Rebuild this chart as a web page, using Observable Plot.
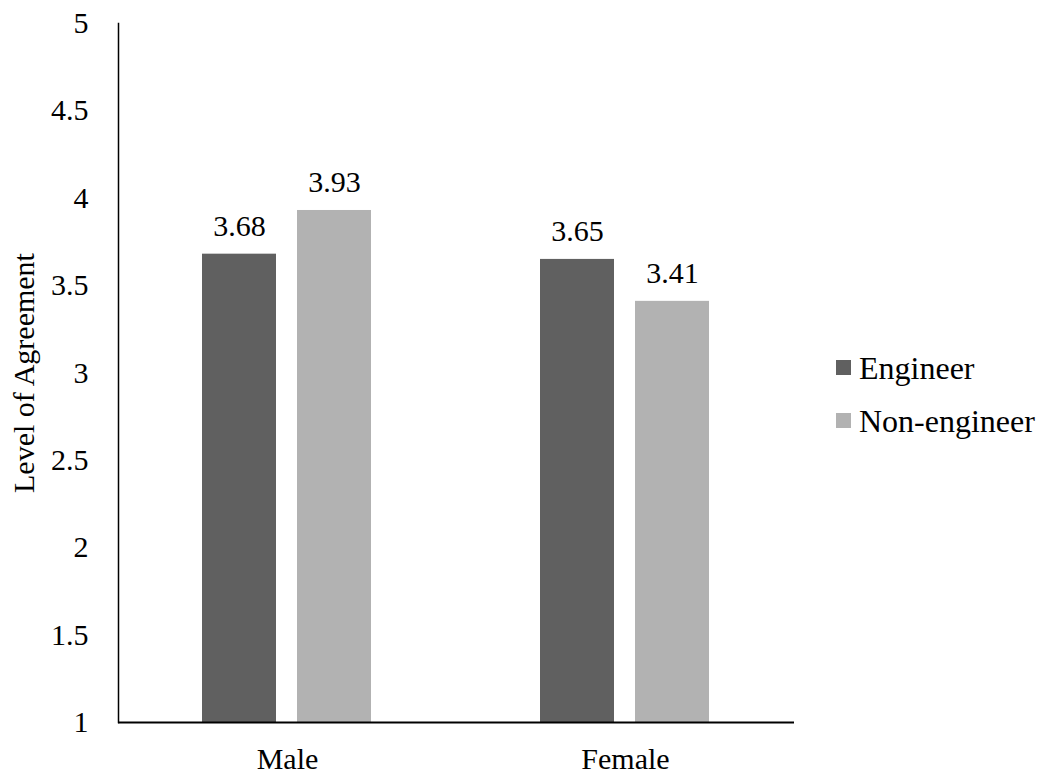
<!DOCTYPE html>
<html>
<head>
<meta charset="utf-8">
<script src="https://cdn.jsdelivr.net/npm/d3@7"></script>
<script src="https://cdn.jsdelivr.net/npm/@observablehq/plot@0.6"></script>
<style>
  body { margin: 0; background: #fff; font-family: "Liberation Serif", "Tinos", "Times New Roman", "Nimbus Roman", "DejaVu Serif", serif; }
  #wrap { position: relative; width: 1042px; height: 774px; }
  #legend { position: absolute; left: 836px; top: 341px; font-size: 32px; color: #000; line-height: 1; }
  .item { display: flex; align-items: center; height: 53px; }
  .sw { width: 15px; height: 15px; margin-right: 8px; }
</style>
</head>
<body>
<div id="wrap"></div>
<script>
const genders = ["Male", "Female"];
const groups = ["Engineer", "Non-engineer"];
const engineerValues = [3.68, 3.65];
const nonEngineerValues = [3.93, 3.41];
const yTicks = [1, 1.5, 2, 2.5, 3, 3.5, 4, 4.5, 5];
const colors = ["#606060", "#b2b2b2"];
const yLabel = "Level of Agreement";

const data = [];
genders.forEach((g, i) => {
  data.push({gender: g, group: groups[0], value: engineerValues[i]});
  data.push({gender: g, group: groups[1], value: nonEngineerValues[i]});
});

const font = "'Liberation Serif', 'Tinos', 'Times New Roman', 'Nimbus Roman', 'DejaVu Serif', serif";

const chart = Plot.plot({
  width: 1042,
  height: 774,
  marginLeft: 118,
  marginRight: 248,
  marginTop: 23,
  marginBottom: 52,
  style: {fontFamily: font, fontSize: "30px", color: "#000", background: "#fff"},
  fx: {domain: genders, padding: 0, label: null},
  x: {domain: groups, paddingInner: 0.22, paddingOuter: 0.872, axis: null},
  y: {domain: [1, 5], label: null},
  color: {domain: groups, range: colors},
  marks: [
    Plot.axisY({ticks: yTicks, tickSize: 0, tickPadding: 30, tickFormat: d => String(d), fontSize: 30, fontFamily: font, label: null}),
    Plot.axisFx({anchor: "bottom", tickSize: 0, tickPadding: 25, fontSize: 30, fontFamily: font, label: null}),
    Plot.barY(data, {fx: "gender", x: "group", y1: 1, y2: "value", fill: "group"}),
    Plot.text(data, {fx: "gender", x: "group", y: "value", text: d => d.value.toFixed(2), lineAnchor: "bottom", dy: -18, fontSize: 30, fontFamily: font, fill: "#000"}),
    Plot.ruleY([1], {stroke: "#000", strokeWidth: 2}),
    Plot.frame({anchor: "left", facetAnchor: "left", stroke: "#000", strokeWidth: 1.5}),
    Plot.text([yLabel], {fx: () => genders[0], frameAnchor: "left", textAnchor: "middle", rotate: -90, dx: -94, fontSize: 30, fontFamily: font, fill: "#000"})
  ]
});

const wrap = document.getElementById("wrap");
wrap.appendChild(chart);
const legend = document.createElement("div");
legend.id = "legend";
groups.forEach((g, i) => {
  const it = document.createElement("div");
  it.className = "item";
  const sw = document.createElement("div");
  sw.className = "sw";
  sw.style.background = colors[i];
  const t = document.createElement("span");
  t.textContent = g;
  it.appendChild(sw); it.appendChild(t);
  legend.appendChild(it);
});
wrap.appendChild(legend);
</script>
</body>
</html>
